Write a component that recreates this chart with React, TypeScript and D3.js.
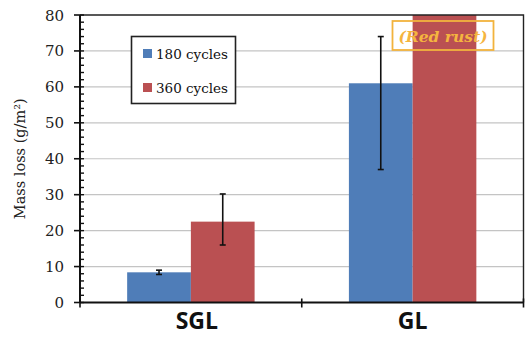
import React, { useEffect, useRef } from "react";
import * as d3 from "d3";

const categories = ["SGL", "GL"];
const seriesNames = ["180 cycles", "360 cycles"];
const colors = ["#4F7DB8", "#BA5052"];
// mass loss (g/m2), per category
const cycles180 = [8.4, 61.0];
const cycles360 = [22.5, 95.0];
// error bar ranges [low, high]
const err180 = [[7.8, 9.0], [37.0, 74.0]];
const err360 = [[16.0, 30.2], [NaN, NaN]];
const yTicks = [0, 10, 20, 30, 40, 50, 60, 70, 80];
const yTitle = "Mass loss (g/m²)";
const note = "(Red rust)";

const W = 526;
const H = 337;

const App = () => {
  const svgRef = useRef<SVGSVGElement>(null);

  useEffect(() => {
    const svg = d3.select(svgRef.current);
    svg.selectAll("*").remove();

    const left = 80;
    const right = 523.5;
    const top = 15;
    const bottom = 302.5;

    const y = d3.scaleLinear().domain([0, 80]).range([bottom, top]);
    const x = d3.scaleBand().domain(categories).range([left, right]);
    const xs = d3
      .scaleBand()
      .domain(seriesNames)
      .range([0, x.bandwidth()])
      .paddingInner(0)
      .paddingOuter(0.74);

    svg.append("rect").attr("width", W).attr("height", H).attr("fill", "#fff");

    // gridlines
    svg
      .append("g")
      .selectAll("line")
      .data(yTicks.filter((d) => d > 0 && d < 80))
      .enter()
      .append("line")
      .attr("x1", left)
      .attr("x2", right)
      .attr("y1", (d) => y(d))
      .attr("y2", (d) => y(d))
      .attr("stroke", "#c4c4c4")
      .attr("stroke-width", 1.2);

    svg
      .append("clipPath")
      .attr("id", "plotclip")
      .append("rect")
      .attr("x", left)
      .attr("y", top)
      .attr("width", right - left)
      .attr("height", bottom - top);

    const values = [cycles180, cycles360];
    const errs = [err180, err360];

    const bars = svg.append("g").attr("clip-path", "url(#plotclip)");
    seriesNames.forEach((s, si) => {
      bars
        .selectAll(`rect.s${si}`)
        .data(categories)
        .enter()
        .append("rect")
        .attr("class", `s${si}`)
        .attr("x", (c) => x(c)! + xs(s)!)
        .attr("width", xs.bandwidth())
        .attr("y", (c, i) => y(values[si][i]))
        .attr("height", (c, i) => bottom - y(values[si][i]))
        .attr("fill", colors[si]);
    });

    // error bars
    const eg = svg.append("g").attr("stroke", "#111").attr("stroke-width", 1.6);
    seriesNames.forEach((s, si) => {
      categories.forEach((c, i) => {
        const [lo, hi] = errs[si][i];
        if (isNaN(lo)) return;
        const cx = x(c)! + xs(s)! + xs.bandwidth() / 2;
        eg.append("line").attr("x1", cx).attr("x2", cx).attr("y1", y(lo)).attr("y2", y(hi));
        [lo, hi].forEach((v) =>
          eg.append("line").attr("x1", cx - 3).attr("x2", cx + 3).attr("y1", y(v)).attr("y2", y(v))
        );
      });
    });

    // plot border
    svg
      .append("path")
      .attr("d", `M${left},${top}H${right}V${bottom}`)
      .attr("fill", "none")
      .attr("stroke", "#222")
      .attr("stroke-width", 1.4);

    // y axis
    const ya = svg.append("g").attr("stroke", "#111");
    ya.append("line").attr("x1", left).attr("x2", left).attr("y1", top).attr("y2", bottom).attr("stroke-width", 2);
    d3.range(0, 81, 2).forEach((v) => {
      ya.append("line").attr("x1", left).attr("x2", left + 4).attr("y1", y(v)).attr("y2", y(v)).attr("stroke-width", 1.4);
    });
    yTicks.forEach((v) => {
      ya.append("line").attr("x1", left - 6).attr("x2", left).attr("y1", y(v)).attr("y2", y(v)).attr("stroke-width", 1.6);
    });
    svg
      .append("g")
      .selectAll("text")
      .data(yTicks)
      .enter()
      .append("text")
      .attr("x", left - 16)
      .attr("y", (d) => y(d) + 5.5)
      .attr("text-anchor", "end")
      .attr("font-family", "DejaVu Serif")
      .attr("font-size", 15)
      .attr("fill", "#222")
      .text((d) => d);

    // x axis
    svg
      .append("line")
      .attr("x1", left)
      .attr("x2", right)
      .attr("y1", bottom)
      .attr("y2", bottom)
      .attr("stroke", "#111")
      .attr("stroke-width", 2);
    [left, x("GL")!, right].forEach((t) => {
      svg
        .append("line")
        .attr("x1", t)
        .attr("x2", t)
        .attr("y1", bottom - 4)
        .attr("y2", bottom + 5)
        .attr("stroke", "#111")
        .attr("stroke-width", 1.6);
    });
    svg
      .append("g")
      .selectAll("text")
      .data(categories)
      .enter()
      .append("text")
      .attr("x", (c) => x(c)! + x.bandwidth() / 2 + (c === "SGL" ? 6 : 0))
      .attr("y", 329)
      .attr("text-anchor", "middle")
      .attr("font-family", "Open Sans")
      .attr("font-weight", 700)
      .attr("font-size", 23)
      .attr("fill", "#111")
      .text((c) => c);

    // y title
    svg
      .append("text")
      .attr("transform", `translate(25,${(top + bottom) / 2}) rotate(-90)`)
      .attr("text-anchor", "middle")
      .attr("font-family", "DejaVu Serif")
      .attr("font-size", 14.5)
      .attr("fill", "#222")
      .text(yTitle);

    // legend
    const lg = svg.append("g");
    lg.append("rect")
      .attr("x", 131.5)
      .attr("y", 36.5)
      .attr("width", 104)
      .attr("height", 67)
      .attr("fill", "#fff")
      .attr("stroke", "#222")
      .attr("stroke-width", 1.6);
    seriesNames.forEach((s, i) => {
      const ly = 53 + i * 34;
      lg.append("rect").attr("x", 143).attr("y", ly - 4).attr("width", 9).attr("height", 9).attr("fill", colors[i]);
      lg.append("text")
        .attr("x", 156)
        .attr("y", ly + 5.5)
        .attr("font-family", "DejaVu Serif")
        .attr("font-size", 13.5)
        .attr("fill", "#111")
        .text(s);
    });

    // annotation
    svg
      .append("rect")
      .attr("x", 392.5)
      .attr("y", 21)
      .attr("width", 101)
      .attr("height", 29)
      .attr("fill", "none")
      .attr("stroke", "#F2B33D")
      .attr("stroke-width", 1.8);
    svg
      .append("text")
      .attr("x", 443)
      .attr("y", 41.5)
      .attr("text-anchor", "middle")
      .attr("font-family", "DejaVu Serif")
      .attr("font-style", "italic")
      .attr("font-weight", 700)
      .attr("font-size", 15.5)
      .attr("fill", "#F5B53F")
      .text(note);
  }, []);

  return (
    <svg
      ref={svgRef}
      width={W}
      height={H}
      style={{ position: "absolute", left: 0, top: 0 }}
    ></svg>
  );
};

export default App;
